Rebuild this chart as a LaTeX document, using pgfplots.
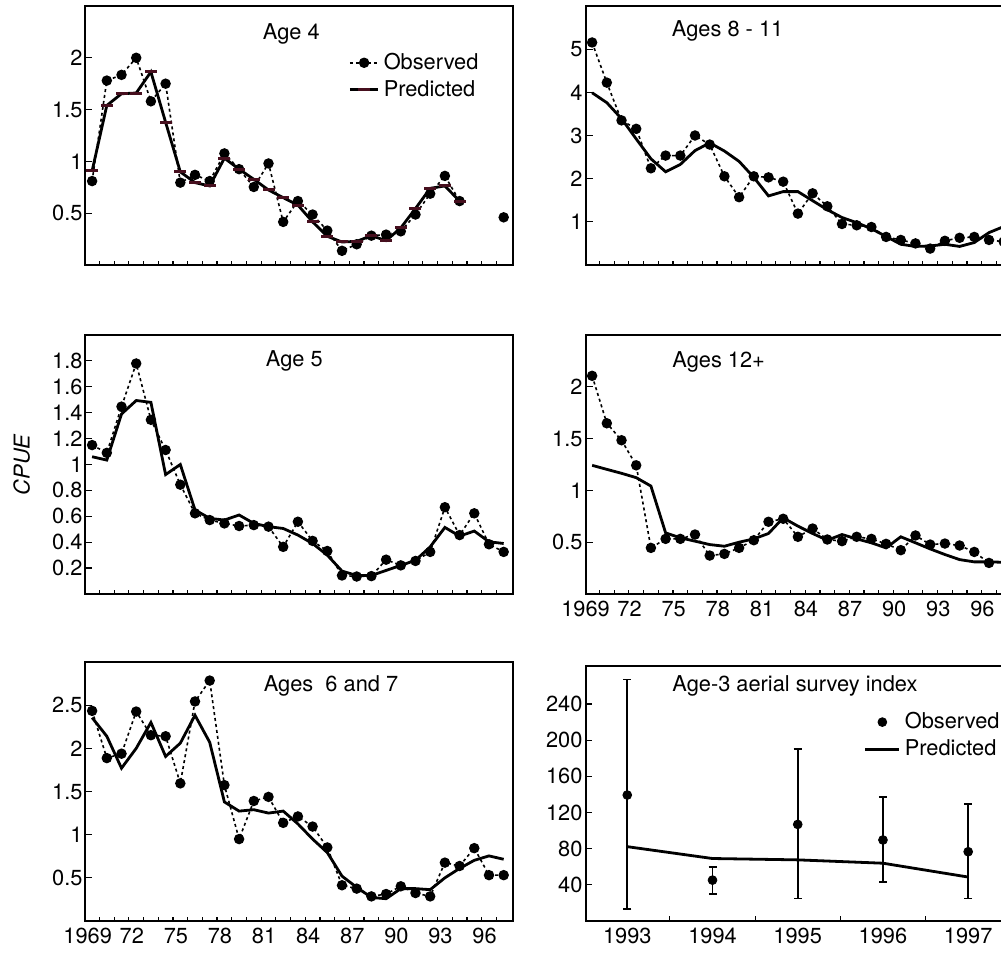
\documentclass[border=0pt]{standalone}
\usepackage{fontspec}
\setmainfont{TeX Gyre Heros}
\usepackage{pgfplots}
\pgfplotsset{compat=1.18}
\definecolor{predred}{RGB}{70,15,30}
\tikzset{ttl/.style={font=\fontsize{10.9}{13}\selectfont}}
\begin{document}
\begin{tikzpicture}
\useasboundingbox (0,0) rectangle (500.5pt,476.5pt);
\pgfplotsset{
  panel/.style={
    scale only axis, width=213.5pt, height=129.5pt,
    axis line style={line width=1pt, black},
    tick align=inside, tick pos=left,
    major tick length=3.5pt, minor tick length=2pt,
    tick style={line width=0.6pt, black},
    major x tick style={draw=none},
    ticklabel style={font=\fontsize{10.9}{13}\selectfont},
    yticklabel style={xshift=2pt},
    /pgf/number format/assume math mode=true,
  },
  yearaxis/.style={xmin=1968.55, xmax=1997.6,
    xtick={1968.7,1971.7,...,1995.7},
    xticklabels={1969,72,75,78,81,84,87,90,93,96},
    minor xtick={1969.5,1970.5,...,1996.5}},
  obs/.style={black, line width=0.8pt, dash pattern=on 1.5pt off 1.5pt,
    mark=*, mark size=2.2pt, mark options={solid}},
  pred/.style={black, line width=1.4pt, no markers},
}
% ---------------- Top left: Age 4
\begin{axis}[panel, yearaxis, at={(42.75pt,344pt)}, anchor=south west,
  ymin=0, ymax=2.5, ytick={0.5,1,1.5,2}, xticklabels={},
  unbounded coords=jump,
  legend style={draw=none, fill=none, at={(0.615,0.835)}, anchor=north west,
    font=\fontsize{10.9}{13}\selectfont, inner sep=0pt, row sep=0pt},
  legend cell align=left,
  legend image code/.code={\draw[mark repeat=2,mark phase=2,#1] plot coordinates {(0cm,0cm) (0.25cm,0cm) (0.5cm,0cm)};}]
\addplot[obs] coordinates {(1969,0.81)(1970,1.78)(1971,1.835)(1972,2.0)(1973,1.58)(1974,1.75)(1975,0.795)(1976,0.87)(1977,0.81)(1978,1.077)(1979,0.925)(1980,0.753)(1981,0.98)(1982,0.416)(1983,0.617)(1984,0.487)(1985,0.332)(1986,0.137)(1987,0.20)(1988,0.283)(1989,0.293)(1990,0.325)(1991,0.487)(1992,0.688)(1993,0.86)(1994,0.617)(1995,nan)(1996,nan)(1997,0.46)};
\addlegendentry{Observed}
\addplot[black, line width=1.4pt, mark=-, mark size=3pt, mark options={line width=1.5pt, predred}] coordinates {(1969,0.908)(1970,1.54)(1971,1.653)(1972,1.66)(1973,1.864)(1974,1.378)(1975,0.899)(1976,0.795)(1977,0.763)(1978,1.031)(1979,0.925)(1980,0.827)(1981,0.724)(1982,0.65)(1983,0.578)(1984,0.416)(1985,0.277)(1986,0.222)(1987,0.228)(1988,0.283)(1989,0.235)(1990,0.358)(1991,0.545)(1992,0.74)(1993,0.763)(1994,0.617)};
\addlegendentry{Predicted}
\node[ttl] at (rel axis cs:0.482,0.892) {Age 4};
\end{axis}
% ---------------- Top right: Ages 8-11
\begin{axis}[panel, yearaxis, at={(292.75pt,344pt)}, anchor=south west,
  ymin=0, ymax=6, ytick={1,2,3,4,5}, xticklabels={}]
\addplot[obs] coordinates {(1969,5.155)(1970,4.225)(1971,3.35)(1972,3.155)(1973,2.24)(1974,2.535)(1975,2.535)(1976,3.0)(1977,2.79)(1978,2.055)(1979,1.57)(1980,2.055)(1981,2.03)(1982,1.93)(1983,1.19)(1984,1.66)(1985,1.36)(1986,0.95)(1987,0.92)(1988,0.88)(1989,0.65)(1990,0.58)(1991,0.50)(1992,0.38)(1993,0.56)(1994,0.63)(1995,0.65)(1996,0.58)(1997,0.54)};
\addplot[pred] coordinates {(1969,3.99)(1970,3.76)(1971,3.39)(1972,2.92)(1973,2.46)(1974,2.16)(1975,2.33)(1976,2.65)(1977,2.83)(1978,2.64)(1979,2.40)(1980,2.03)(1981,1.60)(1982,1.70)(1983,1.70)(1984,1.49)(1985,1.28)(1986,1.10)(1987,0.98)(1988,0.84)(1989,0.66)(1990,0.48)(1991,0.43)(1992,0.44)(1993,0.48)(1994,0.43)(1995,0.52)(1996,0.75)(1997,0.89)};
\node[ttl, anchor=west] at (rel axis cs:0.186,0.903) {Ages 8 - 11};
\end{axis}
% ---------------- Middle left: Age 5
\begin{axis}[panel, yearaxis, at={(42.75pt,179.5pt)}, anchor=south west,
  ymin=0, ymax=2.0, ytick={0.2,0.4,0.6,0.8,1,1.2,1.4,1.6,1.8}, xticklabels={}]
\addplot[obs] coordinates {(1969,1.15)(1970,1.09)(1971,1.447)(1972,1.78)(1973,1.345)(1974,1.112)(1975,0.844)(1976,0.623)(1977,0.571)(1978,0.545)(1979,0.525)(1980,0.532)(1981,0.52)(1982,0.364)(1983,0.558)(1984,0.41)(1985,0.332)(1986,0.143)(1987,0.135)(1988,0.138)(1989,0.265)(1990,0.221)(1991,0.255)(1992,0.325)(1993,0.67)(1994,0.455)(1995,0.623)(1996,0.384)(1997,0.325)};
\addplot[pred] coordinates {(1969,1.06)(1970,1.034)(1971,1.39)(1972,1.494)(1973,1.48)(1974,0.922)(1975,1.0)(1976,0.649)(1977,0.584)(1978,0.571)(1979,0.61)(1980,0.545)(1981,0.52)(1982,0.506)(1983,0.455)(1984,0.39)(1985,0.3)(1986,0.177)(1987,0.143)(1988,0.143)(1989,0.182)(1990,0.221)(1991,0.26)(1992,0.364)(1993,0.514)(1994,0.447)(1995,0.486)(1996,0.403)(1997,0.39)};
\node[ttl] at (rel axis cs:0.489,0.898) {Age 5};
\end{axis}
% ---------------- Middle right: Ages 12+
\begin{axis}[panel, yearaxis, at={(292.75pt,179.5pt)}, anchor=south west,
  ymin=0, ymax=2.5, ytick={0.5,1,1.5,2},
  xtick={1968.55,1971.55,...,1995.55}]
\addplot[obs] coordinates {(1969,2.106)(1970,1.648)(1971,1.484)(1972,1.242)(1973,0.445)(1974,0.532)(1975,0.532)(1976,0.574)(1977,0.371)(1978,0.387)(1979,0.445)(1980,0.519)(1981,0.697)(1982,0.726)(1983,0.552)(1984,0.632)(1985,0.526)(1986,0.51)(1987,0.552)(1988,0.532)(1989,0.484)(1990,0.423)(1991,0.565)(1992,0.477)(1993,0.487)(1994,0.468)(1995,0.406)(1996,0.30)};
\addplot[pred] coordinates {(1969,1.242)(1970,1.203)(1971,1.165)(1972,1.123)(1973,1.042)(1974,0.59)(1975,0.542)(1976,0.51)(1977,0.477)(1978,0.461)(1979,0.5)(1980,0.532)(1981,0.584)(1982,0.735)(1983,0.655)(1984,0.584)(1985,0.519)(1986,0.574)(1987,0.532)(1988,0.494)(1989,0.445)(1990,0.552)(1991,0.494)(1992,0.435)(1993,0.381)(1994,0.332)(1995,0.31)(1996,0.31)(1997,0.306)};
\node[ttl, anchor=west] at (rel axis cs:0.187,0.895) {Ages 12+};
\end{axis}
% ---------------- Bottom left: Ages 6 and 7
\begin{axis}[panel, yearaxis, at={(42.75pt,16pt)}, anchor=south west,
  ymin=0, ymax=3, ytick={0.5,1,1.5,2,2.5}]
\addplot[obs] coordinates {(1969,2.434)(1970,1.887)(1971,1.938)(1972,2.426)(1973,2.152)(1974,2.14)(1975,1.594)(1976,2.543)(1977,2.785)(1978,1.574)(1979,0.949)(1980,1.39)(1981,1.4375)(1982,1.137)(1983,1.211)(1984,1.094)(1985,0.852)(1986,0.414)(1987,0.375)(1988,0.285)(1989,0.3125)(1990,0.402)(1991,0.324)(1992,0.285)(1993,0.676)(1994,0.637)(1995,0.844)(1996,0.531)(1997,0.531)};
\addplot[pred] coordinates {(1969,2.355)(1970,2.14)(1971,1.77)(1972,2.0)(1973,2.30)(1974,1.906)(1975,2.06)(1976,2.383)(1977,2.07)(1978,1.379)(1979,1.273)(1980,1.289)(1981,1.25)(1982,1.273)(1983,1.125)(1984,0.949)(1985,0.793)(1986,0.52)(1987,0.39)(1988,0.273)(1989,0.258)(1990,0.375)(1991,0.375)(1992,0.363)(1993,0.5)(1994,0.609)(1995,0.703)(1996,0.754)(1997,0.715)};
\node[ttl] at (rel axis cs:0.575,0.906) {Ages\ \ 6 and 7};
\end{axis}
% ---------------- Bottom right: Age-3 aerial survey index
\begin{axis}[panel, at={(292.75pt,16pt)}, anchor=south west, height=127.5pt,
  xmin=1992.51, xmax=1997.52, ymin=0, ymax=282,
  xtick={1993,1994,1995,1996,1997},
  xticklabels={1993,1994,1995,1996,1997},
  minor xtick={1993.5,1994.5,1995.5,1996.5}, minor tick length=2.5pt,
  ytick={40,80,120,160,200,240},
  legend style={draw=none, fill=none, at={(0.651,0.835)}, anchor=north west,
    font=\fontsize{10.9}{13}\selectfont, inner sep=0pt, row sep=0pt},
  legend cell align=left]
\addplot[black, only marks, mark=*, mark size=2.2pt,
  error bars/.cd, y dir=both, y explicit,
  error bar style={line width=0.8pt, black},
  error mark options={rotate=90, mark size=2pt, line width=0.8pt, black}]
  coordinates {
  (1993,139.3) += (0,127.9) -= (0,125.8)
  (1994,45.2) += (0,14.6) -= (0,15.3)
  (1995,106.8) += (0,83.6) -= (0,82.1)
  (1996,89.6) += (0,47.8) -= (0,46.6)
  (1997,76.6) += (0,52.9) -= (0,51.9)};
\addlegendentry{Observed}
\addplot[pred] coordinates {(1993,82.2)(1994,69.1)(1995,67.6)(1996,63.9)(1997,48.6)};
\addlegendentry{Predicted}
\node[ttl, anchor=west] at (rel axis cs:0.187,0.923) {Age-3 aerial survey index};
\end{axis}
\node[rotate=90, font=\fontsize{10.9}{13}\selectfont\itshape] at (10.85pt,244pt) {CPUE};
\end{tikzpicture}
\end{document}
